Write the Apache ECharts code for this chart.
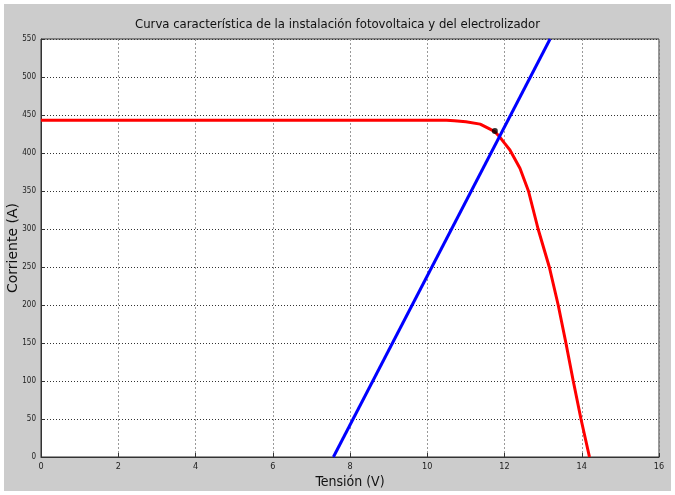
<!DOCTYPE html>
<html>
<head>
<meta charset="utf-8">
<script src="https://cdn.jsdelivr.net/npm/echarts@6/dist/echarts.min.js"></script>
<style>
html,body{margin:0;padding:0;background:#fff;}
#main{width:675px;height:495px;}
</style>
</head>
<body>
<div id="main"></div>
<script>
const titleText = 'Curva característica de la instalación fotovoltaica y del electrolizador';
const xName = 'Tensión (V)';
const yName = 'Corriente (A)';
// Photovoltaic curve (V, A)
const pvV = [0, 10.5, 10.7, 11.0, 11.37, 11.6, 11.75, 11.88, 12.0, 12.14, 12.4, 12.62, 12.87, 13.16, 13.39, 13.59, 13.78, 13.98, 14.2];
const pvI = [443, 443, 442.5, 441, 438, 432, 428, 421, 413, 404, 380, 350, 300, 250, 200, 150, 100, 50, 0];
// Electrolyzer line (V, A)
const elV = [7.57, 13.18];
const elI = [0, 550];
// Operating point marker
const opV = [11.75];
const opI = [429];

const pvData = pvV.map((v, i) => [v, pvI[i]]);
const elData = elV.map((v, i) => [v, elI[i]]);
const opData = opV.map((v, i) => [v, opI[i]]);

const narrow = '"Liberation Sans Narrow", "DejaVu Sans Condensed", "Liberation Sans", sans-serif';
const chart = echarts.init(document.getElementById('main'), null, {renderer: 'canvas'});
chart.setOption({
  animation: false,
  backgroundColor: '#fff',
  graphic: [{
    type: 'rect', z: -10, silent: true,
    shape: {x: 4, y: 4, width: 667, height: 487},
    style: {fill: '#cccccc'}
  }],
  title: {
    text: titleText, left: 'center', top: 13,
    textStyle: {fontFamily: narrow, fontSize: 13, fontWeight: 'normal', color: '#111'}
  },
  grid: {
    left: 41, top: 39, right: 16, bottom: 38,
    containLabel: false, outerBoundsMode: 'none',
    show: true, backgroundColor: '#fff', borderColor: '#333', borderWidth: 1
  },
  xAxis: {
    type: 'value', min: 0, max: 16, interval: 2,
    name: xName, nameLocation: 'middle', nameGap: 18, nameMoveOverlap: false,
    nameTextStyle: {fontFamily: narrow, fontSize: 14, color: '#111'},
    axisLine: {show: true, onZero: false, lineStyle: {color: '#333'}},
    axisTick: {show: true, inside: true, length: 4, lineStyle: {color: '#333'}},
    axisLabel: {fontFamily: narrow, fontSize: 9, color: '#222', margin: 5},
    splitLine: {show: true, lineStyle: {color: '#999', type: [2, 2], width: 1}}
  },
  yAxis: {
    type: 'value', min: 0, max: 550, interval: 50,
    name: yName, nameLocation: 'middle', nameGap: 21, nameMoveOverlap: false,
    nameTextStyle: {fontFamily: '"DejaVu Sans", sans-serif', fontSize: 14, color: '#111'},
    axisLine: {show: true, lineStyle: {color: '#333'}},
    axisTick: {show: true, inside: true, length: 4, lineStyle: {color: '#333'}},
    axisLabel: {fontFamily: narrow, fontSize: 8, color: '#222', margin: 5},
    splitLine: {show: true, lineStyle: {color: '#333', type: [1, 2], width: 1}}
  },
  series: [
    {
      type: 'line', data: pvData, showSymbol: false, smooth: false,
      lineStyle: {color: '#ff0000', width: 3}, z: 3
    },
    {
      type: 'line', data: elData, showSymbol: false,
      lineStyle: {color: '#0000ff', width: 3}, z: 4
    },
    {
      type: 'scatter', data: opData, symbol: 'circle', symbolSize: 6,
      itemStyle: {color: '#000'}, z: 5
    }
  ]
});
</script>
</body>
</html>
